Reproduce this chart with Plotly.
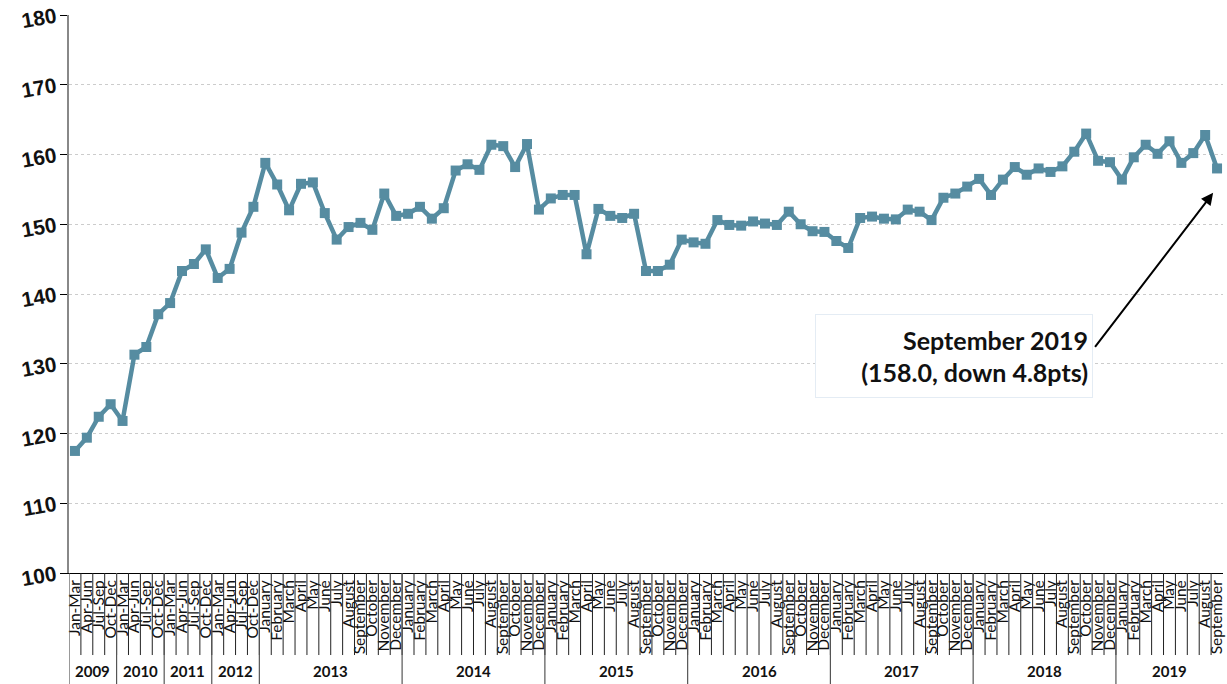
import plotly.graph_objects as go

quarters = ["Jan-Mar", "Apr-Jun", "Jul-Sep", "Oct-Dec"]
months = ["January", "February", "March", "April", "May", "June", "July",
          "August", "September", "October", "November", "December"]

years = ["2009", "2010", "2011", "2012", "2013", "2014", "2015", "2016", "2017", "2018", "2019"]
year_periods = [quarters, quarters, quarters, quarters, months, months, months,
                months, months, months, months[:9]]

values_2009 = [117.5, 119.4, 122.4, 124.2]
values_2010 = [121.8, 131.3, 132.4, 137.1]
values_2011 = [138.7, 143.3, 144.3, 146.4]
values_2012 = [142.3, 143.6, 148.8, 152.5]
values_2013 = [158.8, 155.7, 152.0, 155.8, 156.0, 151.6, 147.8, 149.6, 150.2, 149.2, 154.4, 151.2]
values_2014 = [151.5, 152.5, 150.8, 152.3, 157.7, 158.6, 157.8, 161.4, 161.2, 158.2, 161.5, 152.1]
values_2015 = [153.7, 154.2, 154.2, 145.7, 152.2, 151.2, 150.9, 151.5, 143.3, 143.3, 144.2, 147.8]
values_2016 = [147.4, 147.2, 150.6, 149.9, 149.8, 150.4, 150.1, 149.9, 151.8, 150.0, 149.0, 148.9]
values_2017 = [147.6, 146.6, 150.9, 151.1, 150.8, 150.7, 152.1, 151.8, 150.6, 153.8, 154.4, 155.4]
values_2018 = [156.5, 154.2, 156.4, 158.2, 157.1, 158.0, 157.5, 158.3, 160.4, 163.0, 159.1, 158.9]
values_2019 = [156.4, 159.6, 161.4, 160.1, 161.9, 158.8, 160.2, 162.8, 158.0]

y_ticks = [100, 110, 120, 130, 140, 150, 160, 170, 180]

callout_text = "September 2019<br>(158.0, down 4.8pts)"

all_values = (values_2009 + values_2010 + values_2011 + values_2012 + values_2013 +
              values_2014 + values_2015 + values_2016 + values_2017 + values_2018 + values_2019)
labels = [p for ps in year_periods for p in ps]
idx = list(range(len(labels)))
n = len(labels)

LINE = "#568CA1"
LABEL_FONT = "Lato"

fig = go.Figure()
fig.add_trace(go.Scatter(
    x=idx, y=all_values, mode="lines+markers",
    line=dict(color=LINE, width=4.5),
    marker=dict(symbol="square", size=10, color=LINE),
    hoverinfo="skip", showlegend=False,
))

shapes = []
annotations = []
# category separators
for i in range(n - 1):
    shapes.append(dict(type="line", xref="x", yref="paper", x0=i + 0.5, x1=i + 0.5,
                       y0=0, y1=-0.147, line=dict(color="#222222", width=1)))
# year separators and year labels
start = 0
for yr, ps in zip(years, year_periods):
    shapes.append(dict(type="line", xref="x", yref="paper", x0=start - 0.5, x1=start - 0.5,
                       y0=0, y1=-0.21, line=dict(color="#555555", width=1.2)))
    center = start + (len(ps) - 1) / 2
    annotations.append(dict(x=center, y=-0.176, xref="x", yref="paper", text=yr,
                            showarrow=False, yanchor="middle",
                            font=dict(family=LABEL_FONT, size=15, color="#111111", weight="bold")))
    start += len(ps)

# callout box
annotations.append(dict(
    x=0.7665, y=0.388, xref="paper", yref="paper", text=callout_text, showarrow=False,
    align="right", width=268, height=74, borderpad=4, bordercolor="#E4ECF4", borderwidth=1,
    bgcolor="white", xanchor="center", yanchor="middle",
    font=dict(family=LABEL_FONT, size=25, color="#111111", weight="bold"),
))
# arrow
annotations.append(dict(
    x=95.67, y=154.5, xref="x", yref="y", ax=85.65, ay=132.2, axref="x", ayref="y",
    text="", showarrow=True, arrowhead=2, arrowsize=1.2, arrowwidth=2, arrowcolor="black",
    standoff=0, startstandoff=0,
))

fig.update_layout(
    width=1227, height=684,
    margin=dict(l=69, r=4, t=15, b=111),
    paper_bgcolor="white", plot_bgcolor="white",
    shapes=shapes, annotations=annotations,
    xaxis=dict(
        range=[-0.5, n - 0.5], tickmode="array", tickvals=idx, ticktext=labels,
        tickangle=-90, ticks="", showgrid=False, zeroline=False, automargin=False,
        showline=True, linecolor="black", linewidth=1, ticklabeloverflow="allow",
        tickfont=dict(family=LABEL_FONT, size=15.5, color="#111111"),
    ),
    yaxis=dict(
        range=[100, 180], tickmode="array", tickvals=y_ticks, automargin=False,
        ticks="outside", ticklen=7, tickcolor="black", tickwidth=1,
        showline=True, linecolor="#888888", linewidth=2,
        showgrid=True, gridcolor="#CCCCCC", griddash="dot", gridwidth=1,
        zeroline=False, tickangle=-10,
        tickfont=dict(family="Liberation Sans", size=21, color="#111111", weight="bold"),
    ),
)

fig.write_html(
    "out.html",
    config={"displayModeBar": False},
    post_script="document.body.style.margin='0';document.body.style.overflow='hidden';",
)
